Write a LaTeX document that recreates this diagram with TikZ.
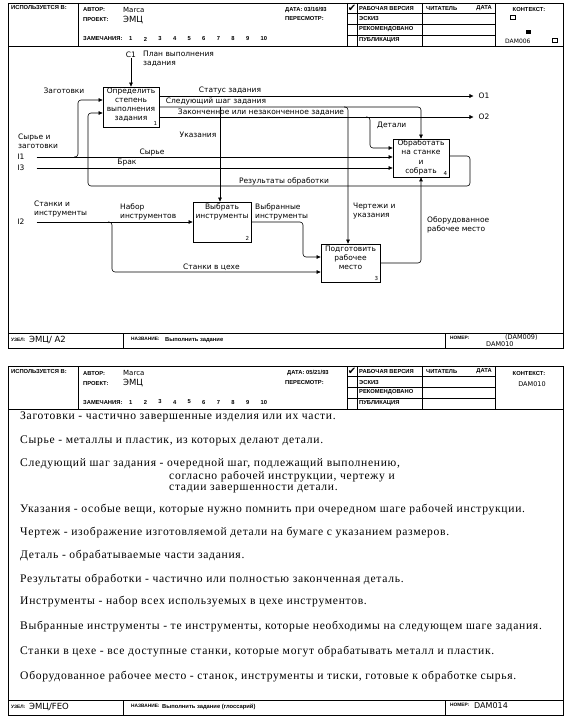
\documentclass[tikz,border=0pt]{standalone}
\usepackage{fontspec}
\setmainfont{Liberation Serif}
\newfontfamily\diagfont{DejaVu Sans}
\newfontfamily\formfont{Liberation Sans}
\usetikzlibrary{arrows.meta}

\tikzset{
  func/.style={draw, thick, minimum width=56pt, minimum height=40pt, inner sep=0pt},
  functxt/.style={anchor=north, align=center, inner sep=0pt, font={\diagfont\fontsize{7.5}{9.2}\selectfont}},
  fnum/.style={anchor=south east, inner sep=2pt, font={\diagfont\fontsize{5.5}{6}\selectfont}},
  lbl/.style={inner sep=0pt, align=left, font={\diagfont\fontsize{7.5}{9}\selectfont}},
  arr/.style={semithick, -{Triangle[length=4pt,width=3.6pt]}, rounded corners=3pt},
  frm/.style={anchor=west, inner sep=0pt, font={\formfont\bfseries\fontsize{5.8}{7}\selectfont}},
  frmsmall/.style={anchor=west, inner sep=0pt, font={\formfont\bfseries\fontsize{4.8}{6}\selectfont}},
  frmval/.style={anchor=west, inner sep=0pt, font={\diagfont\fontsize{7}{8}\selectfont}},
  gloss/.style={anchor=west, inner sep=0pt, font={\addfontfeature{LetterSpace=6}\fontsize{11.6}{14}\selectfont}},
}

\begin{document}
\begin{tikzpicture}[x=1pt,y=-1pt]
  \useasboundingbox (0,0) rectangle (569,717);

  % the two form sheets
  \draw[thick] (8,3) rectangle (563,348);
  \draw[thick] (8,366) rectangle (563,715);
  \foreach \t in {3,366} {
    \draw[semithick] (8,\t+43) -- (563,\t+43);
    \draw[semithick] (78,\t) -- (78,\t+43);
    \draw[semithick] (347,\t) -- (347,\t+43);
    \draw[semithick] (357,\t) -- (357,\t+43);
    \draw[semithick] (422,\t) -- (422,\t+43);
    \draw[semithick] (495,\t) -- (495,\t+43);
    \foreach \r in {10.5,21,32} \draw[semithick] (347,\t+\r) -- (495,\t+\r);
    \node[frm] (used\t) at (11,\t+5) {ИСПОЛЬЗУЕТСЯ В:};
    \node[frm] (author\t) at (83,\t+7) {АВТОР:};
    \node[frmval] (authorval\t) at (123,\t+7) {Marca};
    \node[frm] (proj\t) at (83,\t+17) {ПРОЕКТ:};
    \node[frmval, font={\diagfont\fontsize{8.5}{9}\selectfont}] (projval\t) at (123,\t+17) {ЭМЦ};
    \node[frm] (notes\t) at (83,\t+36) {ЗАМЕЧАНИЯ:};
    \foreach \n [count=\i from 0] in {1,...,10}
      \node[frm] (note\t-\n) at (129+14.6*\i,\t+36) {\n};
    \node[frm] (rev\t) at (285,\t+16) {ПЕРЕСМОТР:};
    \node[font={\diagfont\fontsize{10}{10}\selectfont}, inner sep=0pt] (check\t) at (352,\t+5.5) {✔};
    \node[frm] (st1\t) at (359,\t+5.5) {РАБОЧАЯ ВЕРСИЯ};
    \node[frm] (st2\t) at (359,\t+16) {ЭСКИЗ};
    \node[frm] (st3\t) at (359,\t+26.5) {РЕКОМЕНДОВАНО};
    \node[frm] (st4\t) at (359,\t+37.5) {ПУБЛИКАЦИЯ};
    \node[frm] (reader\t) at (426,\t+5.5) {ЧИТАТЕЛЬ};
    \node[frm, anchor=east] (rdate\t) at (492,\t+5.5) {ДАТА};
    \node[frm, anchor=center] (ctx\t) at (529,\t+7) {КОНТЕКСТ:};
  }
  \foreach \b in {348,715} {
    \draw[semithick] (8,\b-15) -- (563,\b-15);
    \draw[semithick] (123,\b-15) -- (123,\b);
    \draw[semithick] (445,\b-15) -- (445,\b);
    \node[frmsmall] (node\b) at (11,\b-8) {УЗЕЛ:};
    \node[frmsmall] (title\b) at (131,\b-9) {НАЗВАНИЕ:};
    \node[frmsmall] (number\b) at (450,\b-10) {НОМЕР:};
  }

  % sheet 1: header and footer values
  \node[frm] (date1) at (285,10) {ДАТА: 03/16/93};
  \draw (510,15) rectangle (515,19);
  \fill (526,30) rectangle (531,34);
  \node[frmval, font={\diagfont\fontsize{6}{7}\selectfont}] (ctxnum1) at (505,41) {DAM006};
  \draw (552,38) rectangle (557,42);
  \node[frmval, font={\diagfont\fontsize{8.5}{9}\selectfont}] (nodeval1) at (29,340) {ЭМЦ/ А2};
  \node[frm] (titleval1) at (165,340) {Выполнить задание};
  \node[frmval, font={\diagfont\fontsize{6.5}{7}\selectfont}] (numval1) at (505,337) {(DAM009)};
  \node[frmval, font={\diagfont\fontsize{6.5}{7}\selectfont}] (numold1) at (486,344) {DAM010};

  % activity boxes
  \node[func] (box1) at (131,107) {};
  \node[functxt] (box1txt) at ([yshift=-1pt]box1.north) {Определить\\степень\\выполнения\\задания};
  \node[fnum] (box1num) at (box1.south east) {1};
  \node[func, minimum width=58pt] (box2) at (222,222) {};
  \node[functxt] (box2txt) at ([yshift=-2pt]box2.north) {Выбрать\\инструменты};
  \node[fnum] (box2num) at (box2.south east) {2};
  \node[func, minimum width=59pt, minimum height=38pt] (box3) at (350.5,263) {};
  \node[functxt] (box3txt) at ([yshift=-2pt]box3.north) {Подготовить\\рабочее\\место};
  \node[fnum] (box3num) at (box3.south east) {3};
  \node[func, minimum height=38pt] (box4) at (421,158) {};
  \node[functxt] (box4txt) at ([yshift=-1pt]box4.north) {Обработать\\на станке\\и\\собрать};
  \node[fnum] (box4num) at (box4.south east) {4};

  % boundary tunnels
  \node[lbl] (c1) at (131,55) {C1};
  \node[lbl, anchor=north west] (plan) at (143,51) {План выполнения\\задания};
  \node[lbl] (i1) at (21,157) {I1};
  \node[lbl] (i3) at (21,168) {I3};
  \node[lbl] (i2) at (21,222) {I2};
  \node[lbl] (o1) at (484,96) {O1};
  \node[lbl] (o2) at (484,117) {O2};

  % arrows
  \draw[arr] (c1) -- (box1);
  \draw[arr] ([xshift=12pt]i1.east) -- (i1 -| box4.west);
  \draw[arr] ([xshift=12pt]i3.east) -- (i3 -| box4.west);
  \draw[arr] ([xshift=12pt]i2.east) -- (box2.west);
  \coordinate (zag) at (78,157);
  \draw[arr] ([xshift=-4pt]zag) -- (zag) |- ([yshift=7pt]box1.west);
  \coordinate (res) at (88,186);
  \draw[arr] ([yshift=2pt]box4.east) -| (470,186) -- (res) |- ([yshift=-6pt]box1.west);
  \draw[arr] ([yshift=11pt]box1.east) -- ([xshift=-5pt]o1.west);
  \draw[arr] (box1.east) -| (box4.north);
  \draw[arr] ([yshift=-10pt]box1.east) -- ([xshift=-5pt]o2.west);
  \coordinate (ukaz) at (220,107);
  \draw[arr] (ukaz) -- (ukaz |- box2.north);
  \coordinate (chert) at (348,107);
  \draw[arr] ([xshift=-4pt]chert) -- (chert) -- (chert |- box3.north);
  \coordinate (det) at (370,117);
  \draw[arr] ([xshift=-4pt]det) -- (det) |- ([yshift=10pt]box4.west);
  \coordinate (stank) at (112,222);
  \draw[arr] ([xshift=-4pt]stank) -- (stank) |- ([yshift=-9pt]box3.west);
  \coordinate (sel) at (303,222);
  \draw[arr] (box2.east) -- (sel) |- ([yshift=6pt]box3.west);
  \draw[arr] (box3.east) -| (box4.south);

  % arrow labels
  \node[lbl] (status) at (230,90) {Статус задания};
  \node[lbl] (next) at (216,101.5) {Следующий шаг задания};
  \node[lbl] (fin) at (261,112) {Законченное или незаконченное задание};
  \node[lbl] (ukazl) at (198,135) {Указания};
  \node[lbl] (raw) at (152,152) {Сырье};
  \node[lbl] (defect) at (127,163) {Брак};
  \node[lbl] (resl) at (284,181) {Результаты обработки};
  \node[lbl, anchor=west] (detl) at (377,125) {Детали};
  \node[lbl, anchor=north west] (rawzag) at (18,134) {Сырье и\\заготовки};
  \node[lbl] (zagl) at (64,91) {Заготовки};
  \node[lbl, anchor=north west] (tools) at (34,201) {Станки и\\инструменты};
  \node[lbl, anchor=north west] (toolset) at (120,203) {Набор\\инструментов};
  \node[lbl, anchor=north west] (seltools) at (255,203) {Выбранные\\инструменты};
  \node[lbl, anchor=west] (stankl) at (183,267) {Станки в цехе};
  \node[lbl, anchor=north west] (chertl) at (353,203) {Чертежи и\\указания};
  \node[lbl, anchor=north west] (workpl) at (427,216) {Оборудованное\\рабочее место};

  % sheet 2: header and footer values
  \node[frm] (date2) at (287,373) {ДАТА: 05/21/93};
  \node[frmval, anchor=center, font={\diagfont\fontsize{6.5}{7}\selectfont}] (ctxnum2) at (532,384) {DAM010};
  \node[frmval, font={\diagfont\fontsize{8.5}{9}\selectfont}] (nodeval2) at (29,707) {ЭМЦ/FEO};
  \node[frm] (titleval2) at (162,707) {Выполнить задание (глоссарий)};
  \node[frmval, font={\diagfont\fontsize{8}{9}\selectfont}] (numval2) at (474,706) {DAM014};

  % glossary
  \node[gloss] (g1) at (20,417) {Заготовки - частично завершенные изделия или их части.};
  \node[gloss] (g2) at (20,441) {Сырье - металлы и пластик, из которых делают детали.};
  \node[gloss] (g3) at (20,464) {Следующий шаг задания - очередной шаг, подлежащий выполнению,};
  \node[gloss] (g3b) at (169,476.5) {согласно рабочей инструкции, чертежу и};
  \node[gloss] (g3c) at (169,488.5) {стадии завершенности детали.};
  \node[gloss] (g4) at (20,510) {Указания - особые вещи, которые нужно помнить при очередном шаге рабочей инструкции.};
  \node[gloss] (g5) at (20,533) {Чертеж - изображение изготовляемой детали на бумаге с указанием размеров.};
  \node[gloss] (g6) at (20,556) {Деталь - обрабатываемые части задания.};
  \node[gloss] (g7) at (20,580) {Результаты обработки - частично или полностью законченная деталь.};
  \node[gloss] (g8) at (20,602) {Инструменты - набор всех используемых в цехе инструментов.};
  \node[gloss] (g9) at (20,627) {Выбранные инструменты - те инструменты, которые необходимы на следующем шаге задания.};
  \node[gloss] (g10) at (20,652) {Станки в цехе - все доступные станки, которые могут обрабатывать металл и пластик.};
  \node[gloss] (g11) at (20,677) {Оборудованное рабочее место - станок, инструменты и тиски, готовые к обработке сырья.};
\end{tikzpicture}
\end{document}
